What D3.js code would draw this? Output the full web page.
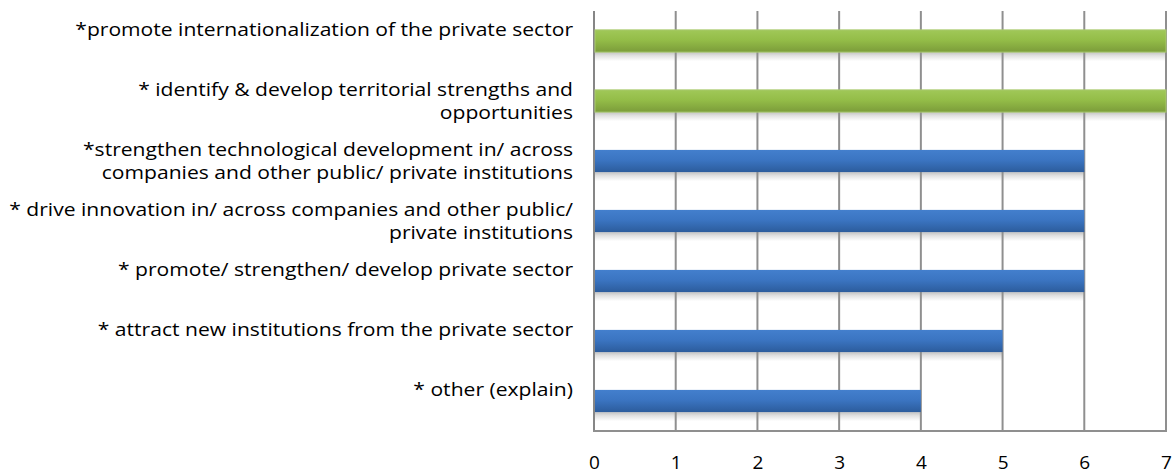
<!DOCTYPE html>
<html>
<head>
<meta charset="utf-8">
<script src="https://cdn.jsdelivr.net/npm/d3@7"></script>
<style>
  html, body { margin: 0; padding: 0; background: #fff; }
  svg { display: block; }
  text { font-family: "Open Sans", "Liberation Sans", Arial, sans-serif; fill: #000; }
</style>
</head>
<body>
<svg id="chart" width="1172" height="474"></svg>
<script>
// Categories from top to bottom; each entry is the label split into its lines
const categories = [
  ["*promote internationalization of the private sector"],
  ["* identify & develop territorial strengths and", "opportunities"],
  ["*strengthen technological development in/ across", "companies and other public/ private institutions"],
  ["* drive innovation in/ across companies and other public/", "private institutions"],
  ["* promote/ strengthen/ develop private sector"],
  ["* attract new institutions from the private sector"],
  ["* other (explain)"]
];
const values = [7, 7, 6, 6, 6, 5, 4];
const highlight = [true, true, false, false, false, false, false];
const tickValues = [0, 1, 2, 3, 4, 5, 6, 7];

const svg = d3.select("#chart");
const margin = { left: 594, right: 6, top: 11, bottom: 43 };
const W = 1172, H = 474;

const x = d3.scaleLinear().domain([0, 7]).range([margin.left, W - margin.right]);
const y = d3.scaleBand()
  .domain(d3.range(categories.length))
  .range([margin.top, H - margin.bottom])
  .paddingInner(0.63)
  .paddingOuter(0.315);

const defs = svg.append("defs");
function grad(id, stops) {
  const g = defs.append("linearGradient").attr("id", id)
    .attr("x1", 0).attr("y1", 0).attr("x2", 0).attr("y2", 1);
  stops.forEach(([o, c]) => g.append("stop").attr("offset", o).attr("stop-color", c));
}
grad("gGreen", [[0, "#a0c858"], [0.45, "#94bd48"], [1, "#7b9c3a"]]);
grad("gBlue", [[0, "#437fcd"], [0.45, "#3b75c2"], [1, "#2c5c9c"]]);
grad("gShadow", [[0, "#b8b8b8"], [0.4, "#dcdcdc"], [1, "#ffffff"]]);

// Soft shadows under the bars
svg.append("g").selectAll("rect").data(values).join("rect")
  .attr("x", x(0) + 1)
  .attr("y", (d, i) => y(i) + y.bandwidth())
  .attr("width", d => x(d) - x(0) - 1)
  .attr("height", 9)
  .attr("fill", "url(#gShadow)")
  .attr("opacity", 0.85);

// Vertical gridlines
const grid = svg.append("g");
grid.selectAll("line").data(tickValues).join("line")
  .attr("x1", d => x(d)).attr("x2", d => x(d))
  .attr("y1", margin.top).attr("y2", H - margin.bottom)
  .attr("stroke", d => d === 0 ? "#868686" : "#8f8f8f")
  .attr("stroke-width", 2);

// Bottom axis line
svg.append("line")
  .attr("x1", x(0) - 1).attr("x2", x(7) + 1)
  .attr("y1", H - margin.bottom).attr("y2", H - margin.bottom)
  .attr("stroke", "#8f8f8f").attr("stroke-width", 2);

// Bars
svg.append("g").selectAll("rect").data(values).join("rect")
  .attr("x", x(0) + 1)
  .attr("y", (d, i) => y(i))
  .attr("width", d => x(d) - x(0) - 1)
  .attr("height", y.bandwidth())
  .attr("fill", (d, i) => highlight[i] ? "url(#gGreen)" : "url(#gBlue)")
  .attr("stroke", (d, i) => highlight[i] ? "#a9c96e" : "none")
  .attr("stroke-width", 1);

// X axis tick labels
const xAxis = d3.axisBottom(x).tickValues(tickValues).tickSize(0).tickPadding(0).tickFormat(d3.format("d"));
const gx = svg.append("g").attr("transform", `translate(0, ${H - 12})`).call(xAxis);
gx.select(".domain").remove();
gx.selectAll("text")
  .attr("dy", "0.35em").attr("y", 0)
  .style("font-family", "\"Open Sans\", \"Liberation Sans\", Arial, sans-serif")
  .style("font-size", "19px").attr("fill", "#000");

// Category labels, right aligned left of the plot
const labelRight = 573;
const lineGap = 23;
const labels = svg.append("g");
categories.forEach((lines, i) => {
  const cy = y(i) + y.bandwidth() / 2;
  const t = labels.append("text")
    .attr("text-anchor", "end")
    .style("font-size", "18.5px");
  lines.forEach((ln, k) => {
    t.append("tspan")
      .attr("x", labelRight)
      .attr("y", cy - lineGap / 2 + k * lineGap)
      .attr("dy", "0.35em")
      .text(ln);
  });
});

// Widen the label block slightly so the first label spans from x = 75
const firstW = labels.select("text").node().getComputedTextLength();
const sx = (labelRight - 75) / firstW;
labels.attr("transform", `translate(${labelRight},0) scale(${sx},1) translate(${-labelRight},0)`);
</script>
</body>
</html>
